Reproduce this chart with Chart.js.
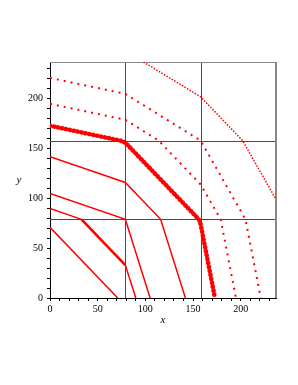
<!DOCTYPE html>
<html>
<head>
<meta charset="utf-8">
<script src="https://cdn.jsdelivr.net/npm/chart.js@4/dist/chart.umd.min.js"></script>
<style>
  html, body { margin: 0; padding: 0; background: #fff; }
  #wrap { width: 298px; height: 385px; }
</style>
</head>
<body>
<div id="wrap"><canvas id="levelChart" width="298" height="385"></canvas></div>
<script>
// polylines (x, y)
const line1 = [{x: 0, y: 71}, {x: 71, y: 0}];
const line2 = [{x: 0, y: 90}, {x: 33, y: 79}, {x: 79, y: 33}, {x: 90, y: 0}];
const line3 = [{x: 0, y: 105}, {x: 79, y: 79}, {x: 105, y: 0}];
const line4 = [{x: 0, y: 142}, {x: 79, y: 116}, {x: 116, y: 79}, {x: 142, y: 0}];
const line5 = [{x: 0, y: 173}, {x: 74, y: 158}, {x: 79, y: 156}, {x: 156, y: 79}, {x: 158, y: 74}, {x: 173, y: 0}];
const line6 = [{x: 0, y: 195}, {x: 79, y: 179}, {x: 114, y: 158}, {x: 158, y: 114}, {x: 179, y: 79}, {x: 195, y: 0}];
const line7 = [{x: 0, y: 221}, {x: 79, y: 205}, {x: 158, y: 158}, {x: 205, y: 79}, {x: 221, y: 0}];
const line8 = [{x: 98, y: 237}, {x: 158, y: 202}, {x: 202, y: 158}, {x: 237, y: 99}];

const breaks = [79, 158];
const tickLabels = [0, 50, 100, 150, 200];
const axisMax = 237;

const red = 'rgb(255,0,0)';

function lineSet(data, width, dash, cap) {
  return {
    data: data,
    showLine: true,
    borderColor: red,
    borderWidth: width,
    borderDash: dash || [],
    borderCapStyle: cap || 'butt',
    pointRadius: 0,
    fill: false,
    tension: 0
  };
}

// grid lines at the breaks + grey top/right frame
const framePlugin = {
  id: 'frame',
  beforeDatasetsDraw(chart) {
    const ctx = chart.ctx;
    const a = chart.chartArea;
    const xs = chart.scales.x, ys = chart.scales.y;
    ctx.save();
    ctx.strokeStyle = '#4a4a4a';
    ctx.lineWidth = 1;
    breaks.forEach(v => {
      const px = Math.round(xs.getPixelForValue(v)) + 0.5;
      ctx.beginPath(); ctx.moveTo(px, a.top); ctx.lineTo(px, a.bottom); ctx.stroke();
      const py = Math.round(ys.getPixelForValue(v)) + 0.5;
      ctx.beginPath(); ctx.moveTo(a.left, py); ctx.lineTo(a.right, py); ctx.stroke();
    });
    ctx.strokeStyle = '#888';
    ctx.beginPath(); ctx.moveTo(a.left, a.top + 0.5); ctx.lineTo(a.right, a.top + 0.5); ctx.stroke();
    ctx.lineWidth = 2;
    ctx.beginPath(); ctx.moveTo(a.right, a.top); ctx.lineTo(a.right, a.bottom); ctx.stroke();
    ctx.restore();
  },
  afterDraw(chart) {
    const ctx = chart.ctx;
    const a = chart.chartArea;
    ctx.save();
    ctx.fillStyle = '#000';
    ctx.font = 'italic 11px "Liberation Serif", "DejaVu Serif", serif';
    ctx.textAlign = 'center';
    ctx.textBaseline = 'middle';
    ctx.fillText('y', 19, (a.top + a.bottom) / 2);
    ctx.restore();
  }
};

const tickFont = { family: '"Liberation Serif", "DejaVu Serif", serif', size: 10 };

function axis(isX) {
  return {
    type: 'linear',
    min: 0,
    max: axisMax,
    border: { color: '#000', width: 1 },
    grid: {
      drawOnChartArea: false,
      drawTicks: true,
      tickLength: 3,
      tickColor: '#000'
    },
    ticks: {
      stepSize: 10,
      includeBounds: false,
      autoSkip: false,
      maxRotation: 0,
      color: '#000',
      font: tickFont,
      padding: isX ? 2 : 4,
      callback: v => tickLabels.includes(v) ? String(v) : ''
    },
    afterFit: isX ? (s => { s.height = 32; }) : (s => { s.width = 50; })
  };
}

const xAxis = axis(true);
xAxis.title = {
  display: true,
  text: 'x',
  color: '#000',
  font: { family: '"Liberation Serif", "DejaVu Serif", serif', size: 11, style: 'italic' },
  padding: { top: 0, bottom: 3 }
};

const ds2 = lineSet(line2, 1.5);
ds2.segment = { borderWidth: c => c.p0DataIndex === 1 ? 2.6 : 1.5 };

new Chart(document.getElementById('levelChart'), {
  type: 'scatter',
  data: {
    datasets: [
      lineSet(line1, 1.5),
      ds2,
      lineSet(line3, 1.5),
      lineSet(line4, 1.5),
      lineSet(line5, 4.5, [0.5, 3.5], 'round'),
      lineSet(line6, 2, [2, 5]),
      lineSet(line7, 2, [2, 5]),
      lineSet(line8, 1.5, [1.5, 1.5])
    ]
  },
  options: {
    responsive: false,
    animation: false,
    layout: { padding: { left: 0, right: 22, top: 62, bottom: 55 } },
    plugins: { legend: { display: false }, tooltip: { enabled: false } },
    scales: { x: xAxis, y: axis(false) }
  },
  plugins: [framePlugin]
});
</script>
</body>
</html>
